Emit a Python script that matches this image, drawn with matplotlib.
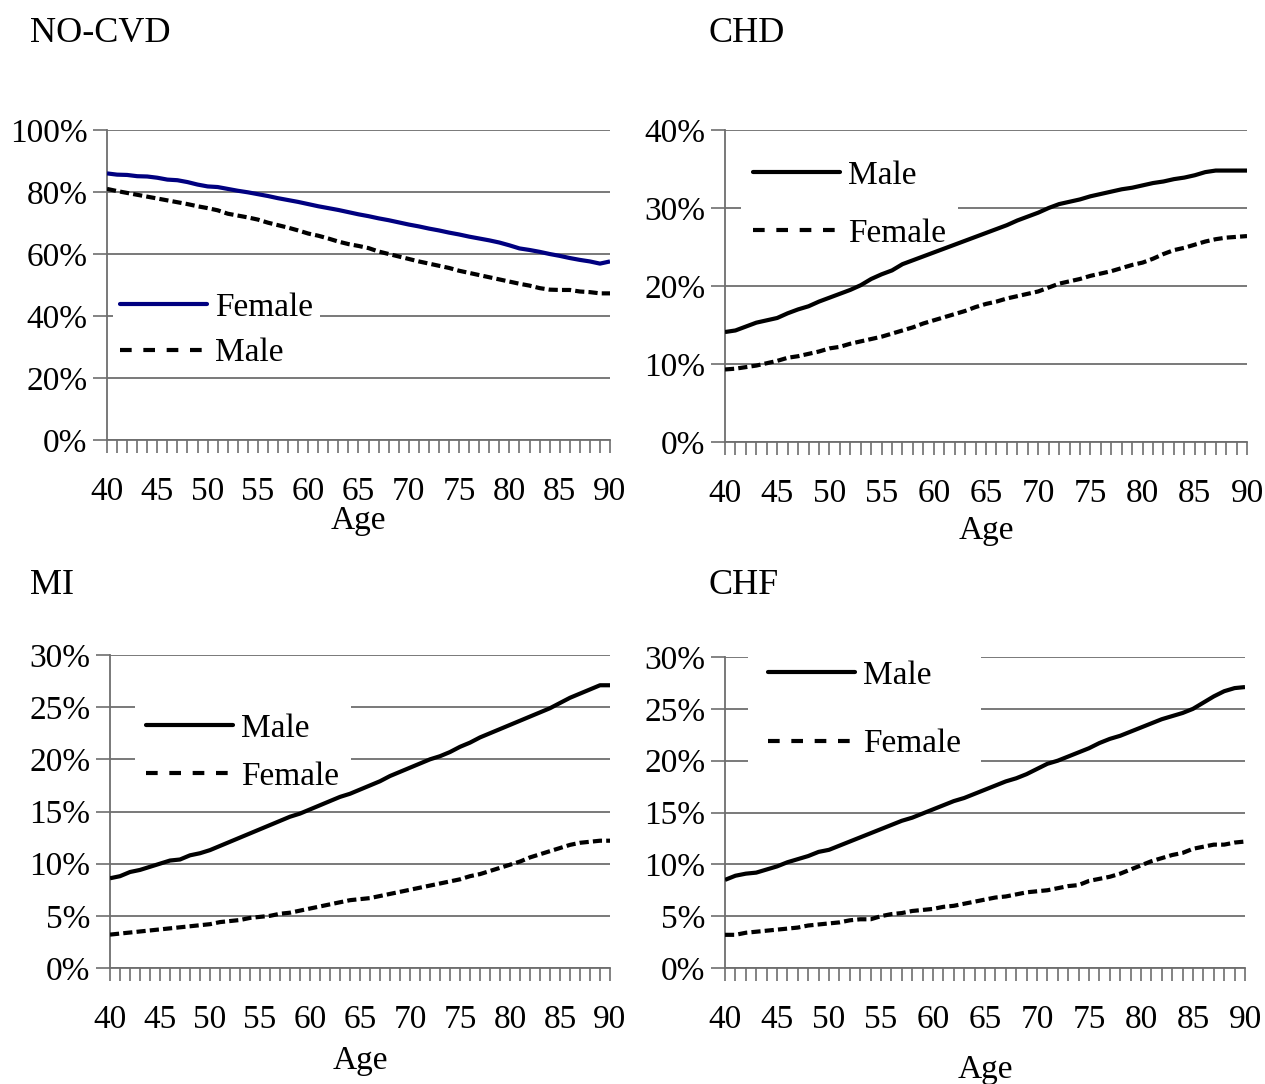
import matplotlib
matplotlib.use("Agg")
import matplotlib.pyplot as plt
from matplotlib.lines import Line2D
from matplotlib.ticker import FuncFormatter

plt.rcParams['font.family'] = ['Liberation Serif', 'DejaVu Serif']

ages = list(range(40, 91))
xtick_labels = [40, 45, 50, 55, 60, 65, 70, 75, 80, 85, 90]

nocvd_female = [86.0, 85.6, 85.5, 85.1, 85.0, 84.6, 84.0, 83.8, 83.2, 82.4,
                81.8, 81.6, 81.0, 80.4, 79.9, 79.3, 78.7, 78.0, 77.4, 76.8,
                76.1, 75.4, 74.8, 74.2, 73.5, 72.8, 72.2, 71.5, 70.9, 70.2,
                69.5, 68.9, 68.2, 67.6, 66.9, 66.3, 65.6, 65.0, 64.4, 63.7,
                62.8, 61.8, 61.3, 60.7, 60.0, 59.4, 58.7, 58.1, 57.6, 56.9, 57.6]
nocvd_male = [81.0, 80.3, 79.7, 79.1, 78.5, 77.9, 77.3, 76.7, 76.1, 75.4,
              74.8, 74.1, 73.0, 72.4, 71.8, 71.1, 70.1, 69.3, 68.5, 67.6,
              66.6, 65.9, 65.0, 64.0, 63.2, 62.6, 61.9, 60.8, 60.0, 59.2,
              58.4, 57.6, 56.9, 56.2, 55.5, 54.6, 53.9, 53.2, 52.5, 51.8,
              51.1, 50.4, 49.8, 49.0, 48.5, 48.4, 48.4, 47.9, 47.7, 47.3, 47.3]

chd_male = [14.1, 14.3, 14.8, 15.3, 15.6, 15.9, 16.5, 17.0, 17.4, 18.0,
            18.5, 19.0, 19.5, 20.1, 20.9, 21.5, 22.0, 22.8, 23.3, 23.8,
            24.3, 24.8, 25.3, 25.8, 26.3, 26.8, 27.3, 27.8, 28.4, 28.9,
            29.4, 30.0, 30.5, 30.8, 31.1, 31.5, 31.8, 32.1, 32.4, 32.6,
            32.9, 33.2, 33.4, 33.7, 33.9, 34.2, 34.6, 34.8, 34.8, 34.8, 34.8]
chd_female = [9.3, 9.4, 9.6, 9.8, 10.1, 10.4, 10.8, 11.0, 11.3, 11.6,
              12.0, 12.2, 12.6, 12.9, 13.2, 13.5, 13.9, 14.3, 14.7, 15.2,
              15.6, 16.0, 16.4, 16.8, 17.3, 17.7, 18.0, 18.4, 18.7, 19.0,
              19.3, 19.8, 20.3, 20.6, 20.9, 21.3, 21.6, 21.9, 22.3, 22.7,
              23.0, 23.5, 24.1, 24.6, 24.9, 25.3, 25.7, 26.0, 26.2, 26.3, 26.4]

mi_male = [8.6, 8.8, 9.2, 9.4, 9.7, 10.0, 10.3, 10.4, 10.8, 11.0,
           11.3, 11.7, 12.1, 12.5, 12.9, 13.3, 13.7, 14.1, 14.5, 14.8,
           15.2, 15.6, 16.0, 16.4, 16.7, 17.1, 17.5, 17.9, 18.4, 18.8,
           19.2, 19.6, 20.0, 20.3, 20.7, 21.2, 21.6, 22.1, 22.5, 22.9,
           23.3, 23.7, 24.1, 24.5, 24.9, 25.4, 25.9, 26.3, 26.7, 27.1, 27.1]
mi_female = [3.2, 3.3, 3.4, 3.5, 3.6, 3.7, 3.8, 3.9, 4.0, 4.1,
             4.2, 4.4, 4.5, 4.6, 4.8, 4.9, 5.0, 5.2, 5.3, 5.5,
             5.7, 5.9, 6.1, 6.3, 6.5, 6.6, 6.7, 6.9, 7.1, 7.3,
             7.5, 7.7, 7.9, 8.1, 8.3, 8.5, 8.8, 9.0, 9.3, 9.6,
             9.9, 10.2, 10.6, 10.9, 11.2, 11.5, 11.8, 12.0, 12.1, 12.2, 12.2]

chf_male = [8.5, 8.9, 9.1, 9.2, 9.5, 9.8, 10.2, 10.5, 10.8, 11.2,
            11.4, 11.8, 12.2, 12.6, 13.0, 13.4, 13.8, 14.2, 14.5, 14.9,
            15.3, 15.7, 16.1, 16.4, 16.8, 17.2, 17.6, 18.0, 18.3, 18.7,
            19.2, 19.7, 20.0, 20.4, 20.8, 21.2, 21.7, 22.1, 22.4, 22.8,
            23.2, 23.6, 24.0, 24.3, 24.6, 25.0, 25.6, 26.2, 26.7, 27.0, 27.1]
chf_female = [3.2, 3.2, 3.4, 3.5, 3.6, 3.7, 3.8, 3.9, 4.1, 4.2,
              4.3, 4.4, 4.6, 4.7, 4.7, 5.0, 5.2, 5.3, 5.5, 5.6,
              5.7, 5.9, 6.0, 6.2, 6.4, 6.6, 6.8, 6.9, 7.1, 7.3,
              7.4, 7.5, 7.7, 7.9, 8.0, 8.4, 8.6, 8.8, 9.1, 9.5,
              9.9, 10.3, 10.6, 10.9, 11.1, 11.5, 11.7, 11.9, 11.9, 12.1, 12.2]

W, H = 1265, 1084
fig = plt.figure(figsize=(W / 100, H / 100), dpi=100)
FS = 24
TFS = 26
GRID = '#6e6e6e'
NAVY = '#000080'

def px_axes(l, r, t, b):
    return fig.add_axes([l / W, 1 - b / H, (r - l) / W, (b - t) / H])

def style(ax, ymax, ystep, xlabelpad):
    ax.set_xlim(40, 90)
    ax.set_ylim(0, ymax)
    ax.set_yticks(list(range(0, ymax + 1, ystep)))
    ax.yaxis.set_major_formatter(FuncFormatter(lambda v, p: f"{int(round(v))}%"))
    ax.set_xticks(ages)
    ax.set_xticklabels([str(a) if a in xtick_labels else '' for a in ages])
    ax.tick_params(axis='x', direction='out', length=9, width=1.2, color=GRID,
                   pad=17, labelsize=FS)
    ax.tick_params(axis='y', direction='out', length=10, width=1.2, color=GRID,
                   pad=4, labelsize=FS)
    for s in ['top', 'right']:
        ax.spines[s].set_visible(False)
    for s in ['left', 'bottom']:
        ax.spines[s].set_color(GRID)
        ax.spines[s].set_linewidth(1.3)
    ax.grid(axis='y', color=GRID, linewidth=1.3)
    ax.set_axisbelow(True)
    ax.set_xlabel('Age', fontsize=FS, labelpad=xlabelpad)

LW = 3.0
DATA_DASH = (0, (2.2, 1.0))
LEG_DASH = (0, (2.8, 2.8))

def legend(ax, entries, labels, x, y, spacing, bpad):
    handles = []
    for color, ls in entries:
        handles.append(Line2D([], [], color=color, lw=LW,
                              linestyle=LEG_DASH if ls == 'dash' else '-',
                              solid_capstyle='round', dash_capstyle='butt'))
    leg = ax.legend(handles, labels, loc='upper left',
                    bbox_to_anchor=(x, y), borderaxespad=0,
                    frameon=True, facecolor='white', edgecolor='none',
                    framealpha=1, fancybox=False, fontsize=FS,
                    handlelength=2.6, handletextpad=0.25,
                    labelspacing=spacing, borderpad=bpad)
    leg.set_zorder(5)

def plot_line(ax, y, color, dashed):
    ax.plot(ages, y, color=color, lw=LW, zorder=6,
            linestyle=DATA_DASH if dashed else '-',
            solid_capstyle='butt', dash_capstyle='butt')

# Panel 1: NO-CVD
ax1 = px_axes(107, 610, 130, 440)
plot_line(ax1, nocvd_female, NAVY, False)
plot_line(ax1, nocvd_male, 'black', True)
style(ax1, 100, 20, -1)
legend(ax1, [(NAVY, 'solid'), ('black', 'dash')], ['Female', 'Male'], 0.0125, 0.498, 0.45, 0.2)

# Panel 2: CHD
ax2 = px_axes(725, 1247, 130, 442)
plot_line(ax2, chd_male, 'black', False)
plot_line(ax2, chd_female, 'black', True)
style(ax2, 40, 10, 5)
legend(ax2, [('black', 'solid'), ('black', 'dash')], ['Male', 'Female'], 0.031, 0.940, 0.82, 0.35)

# Panel 3: MI
ax3 = px_axes(110, 610, 655, 968)
plot_line(ax3, mi_male, 'black', False)
plot_line(ax3, mi_female, 'black', True)
style(ax3, 30, 5, 8)
legend(ax3, [('black', 'solid'), ('black', 'dash')], ['Male', 'Female'], 0.049, 0.850, 0.52, 0.35)

# Panel 4: CHF
ax4 = px_axes(725, 1245, 657, 968)
plot_line(ax4, chf_male, 'black', False)
plot_line(ax4, chf_female, 'black', True)
style(ax4, 30, 5, 14)
legend(ax4, [('black', 'solid'), ('black', 'dash')], ['Male', 'Female'], 0.044, 1.054, 1.14, 0.6)

# Titles
fig.text(30 / W, 1 - 33 / H, 'NO-CVD', fontsize=TFS, va='center', ha='left')
fig.text(708 / W, 1 - 33 / H, 'CHD', fontsize=TFS, va='center', ha='left')
fig.text(30 / W, 1 - 585 / H, 'MI', fontsize=TFS, va='center', ha='left')
fig.text(708 / W, 1 - 585 / H, 'CHF', fontsize=TFS, va='center', ha='left')

fig.savefig('out.png', dpi=100, facecolor='white')
